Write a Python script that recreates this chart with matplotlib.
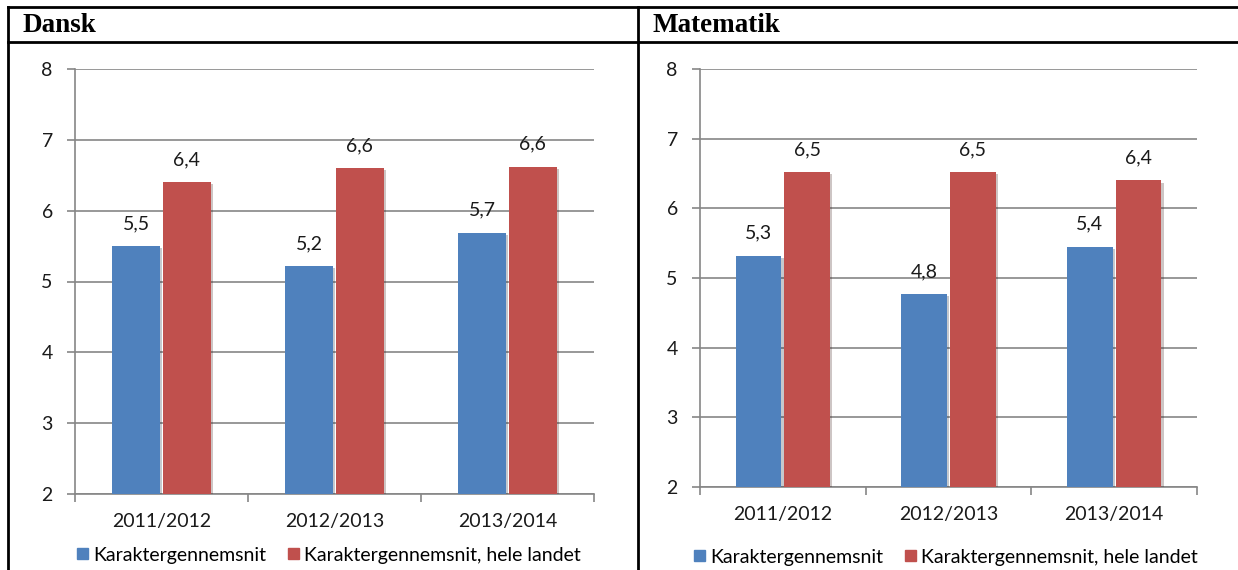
import numpy as np
import matplotlib
matplotlib.use("Agg")
from matplotlib import pyplot as plt
from matplotlib import patheffects as pe
from matplotlib.patches import Patch

# Data
years = ["2011/2012", "2012/2013", "2013/2014"]
dansk_skole = [5.5, 5.22, 5.69]
dansk_landet = [6.4, 6.6, 6.62]
mat_skole = [5.32, 4.77, 5.45]
mat_landet = [6.52, 6.52, 6.4]
dansk_lbl_skole = ["5,5", "5,2", "5,7"]
dansk_lbl_landet = ["6,4", "6,6", "6,6"]
mat_lbl_skole = ["5,3", "4,8", "5,4"]
mat_lbl_landet = ["6,5", "6,5", "6,4"]
serie_navne = ["Karaktergennemsnit", "Karaktergennemsnit, hele landet"]
overskrifter = ["Dansk", "Matematik"]

BLUE = "#4F81BD"
RED = "#C0504D"
GRID = "#868686"
FS = 14

W, H = 1238, 570
plt.rcParams['font.family'] = ['Lato', 'DejaVu Sans']
fig = plt.figure(figsize=(W / 100, H / 100), dpi=100)


def px_axes(x0, x1, ytop, ybot):
    return fig.add_axes([x0 / W, (H - ybot) / H, (x1 - x0) / W, (ybot - ytop) / H])


def bar_chart(ax, skole, landet, lbl_s, lbl_l, leg_y, leg_x):
    x = np.arange(len(years))
    bw = 0.277
    off = 0.147
    shadow = [pe.SimplePatchShadow(offset=(1.5, -1.5), alpha=0.25), pe.Normal()]
    b1 = ax.bar(x - off, skole, bw, bottom=0, color=BLUE, zorder=3)
    b2 = ax.bar(x + off, landet, bw, bottom=0, color=RED, zorder=3)
    for b in list(b1) + list(b2):
        b.set_path_effects(shadow)
    for i in range(len(years)):
        ax.annotate(lbl_s[i], (x[i] - off, skole[i]), xytext=(0, 10), textcoords="offset points",
                    ha="center", va="bottom", fontsize=FS, color="#1a1a1a")
        ax.annotate(lbl_l[i], (x[i] + off, landet[i]), xytext=(0, 10), textcoords="offset points",
                    ha="center", va="bottom", fontsize=FS, color="#1a1a1a")
    ax.set_ylim(2, 8)
    ax.set_xlim(-0.5, 2.5)
    ax.set_yticks(range(2, 9))
    ax.set_xticks(x)
    ax.set_xticklabels(years, fontsize=FS)
    ax.set_xticks([-0.5, 0.5, 1.5, 2.5], minor=True)
    ax.tick_params(axis="x", which="major", length=0, pad=14, colors="#1a1a1a")
    ax.tick_params(axis="x", which="minor", length=6, color=GRID, width=1.2)
    ax.tick_params(axis="y", length=6, color=GRID, width=1.2, labelsize=FS, pad=10, colors="#1a1a1a")
    ax.tick_params(axis="y", color=GRID)
    ax.grid(axis="y", color=GRID, lw=1.2, zorder=0)
    for s in ["top", "right"]:
        ax.spines[s].set_visible(False)
    for s in ["left", "bottom"]:
        ax.spines[s].set_color(GRID)
        ax.spines[s].set_linewidth(1.2)
    handles = [Patch(color=BLUE), Patch(color=RED)]
    fig.legend(handles, serie_navne, loc="center", bbox_to_anchor=(leg_x / W, (H - leg_y) / H),
               ncol=2, frameon=False, fontsize=FS, handlelength=0.55, handleheight=0.55,
               handletextpad=0.3, columnspacing=1.1, borderaxespad=0, borderpad=0)


ax1 = px_axes(75, 594, 69, 494)
bar_chart(ax1, dansk_skole, dansk_landet, dansk_lbl_skole, dansk_lbl_landet, 555, 329)
ax2 = px_axes(700, 1197, 69, 487)
bar_chart(ax2, mat_skole, mat_landet, mat_lbl_skole, mat_lbl_landet, 557, 946)

# table frame
lw = 2.0
fig.add_artist(plt.Line2D([8 / W, 1], [1 - 6.5 / H, 1 - 6.5 / H], color="black", lw=lw))
fig.add_artist(plt.Line2D([8 / W, 1], [1 - 42 / H, 1 - 42 / H], color="black", lw=lw))
fig.add_artist(plt.Line2D([8 / W, 8 / W], [0, 1 - 6.5 / H], color="black", lw=lw))
fig.add_artist(plt.Line2D([637.5 / W, 637.5 / W], [0, 1 - 6.5 / H], color="black", lw=lw))
fig.text(22 / W, 1 - 25 / H, overskrifter[0], family="Liberation Serif", weight="bold",
         fontsize=19.5, va="center", ha="left")
fig.text(652 / W, 1 - 25 / H, overskrifter[1], family="Liberation Serif", weight="bold",
         fontsize=19.5, va="center", ha="left")

fig.savefig("out.png", dpi=100)
